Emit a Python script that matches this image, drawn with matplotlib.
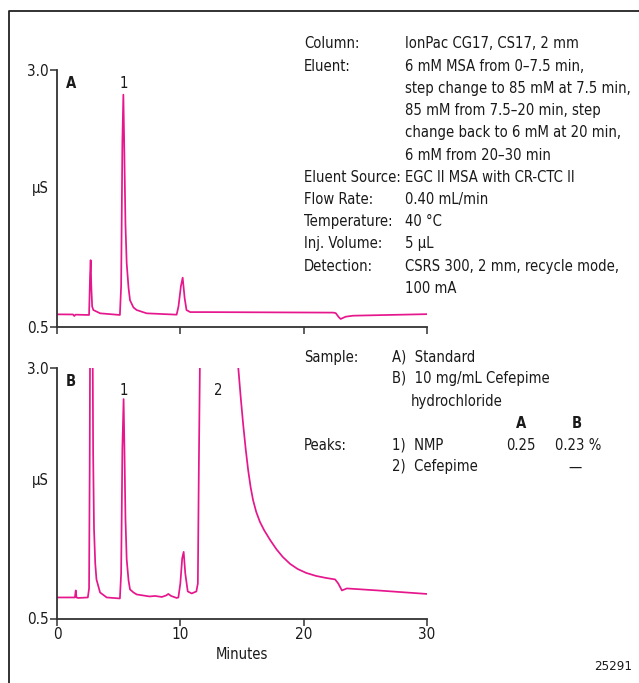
import matplotlib
matplotlib.use("Agg")
import matplotlib.pyplot as plt
from matplotlib.lines import Line2D

# DejaVu Sans Condensed stands in for the narrow Helvetica of the original
plt.rcParams['font.family'] = ['DejaVu Sans']
plt.rcParams['font.stretch'] = 'condensed'

W, H = 639, 683
TRACE = '#e6168c'
AXC = '#333333'
TXT = '#1a1a1a'
FS = 10.6

# chromatogram A (standard), minutes / uS
time_a = [0, 1.3, 1.4, 1.5, 2.6, 2.68, 2.73, 2.78, 2.85, 2.95, 3.5, 5.1, 5.2, 5.3,
          5.38, 5.46, 5.55, 5.65, 5.8, 5.92, 6.2, 6.46, 7.27, 9.7, 9.85, 10.05, 10.19,
          10.35, 10.5, 10.8, 12, 22.4, 22.6, 22.85, 23.0, 23.4, 24, 30]
signal_a = [0.623, 0.622, 0.607, 0.62, 0.617, 1.0, 1.15, 0.9, 0.7, 0.665, 0.633, 0.617, 0.9, 2.3,
            2.76, 2.2, 1.5, 1.12, 0.88, 0.76, 0.69, 0.665, 0.633, 0.62, 0.7, 0.9, 0.98,
            0.78, 0.665, 0.645, 0.645, 0.64, 0.635, 0.595, 0.578, 0.6, 0.61, 0.625]

# chromatogram B (10 mg/mL cefepime hydrochloride)
time_b = [0, 1.45, 1.52, 1.58, 1.7, 2.5, 2.6, 2.65, 2.7, 2.8, 2.88, 2.93, 3.0, 3.1, 3.2,
          3.49, 4.03, 5.1, 5.2, 5.3, 5.4, 5.48, 5.55, 5.65, 5.8, 5.92, 6.2, 6.46, 7.5,
          7.95, 8.5, 8.85, 9.03, 9.25, 9.7, 9.84, 10.0, 10.15, 10.27, 10.4, 10.6, 10.92,
          11.3, 11.42, 11.5, 11.6, 12.0, 13.0, 14.0,
          14.7, 14.9, 15.1, 15.3, 15.5, 15.7, 15.9, 16.15, 16.45, 16.8, 17.3, 17.8, 18.3,
          18.9, 19.5, 20.2, 21.0, 21.8, 22.55, 22.8, 23.1, 23.5, 26, 30]
signal_b = [0.71, 0.71, 0.78, 0.71, 0.705, 0.71, 0.8, 2.0, 4.0, 4.5, 3.5, 2.15, 1.4, 1.05, 0.89,
            0.76, 0.71, 0.70, 0.95, 2.2, 2.69, 2.1, 1.5, 1.09, 0.88, 0.79, 0.76, 0.74, 0.72,
            0.725, 0.715, 0.73, 0.745, 0.725, 0.705, 0.71, 0.85, 1.1, 1.165, 0.95, 0.77, 0.75,
            0.77, 0.85, 2.0, 3.2, 6.0, 8.0, 5.0,
            3.0, 2.70, 2.43, 2.19, 1.98, 1.81, 1.68, 1.565, 1.465, 1.38, 1.28, 1.19, 1.115,
            1.045, 0.995, 0.955, 0.925, 0.905, 0.89, 0.85, 0.78, 0.80, 0.78, 0.745]

x_ticks = [0, 10, 20, 30]
y_ticks = [0.5, 3.0]

conditions = [
    ("Column:", "IonPac CG17, CS17, 2 mm"),
    ("Eluent:", "6 mM MSA from 0\u20137.5 min,"),
    ("", "step change to 85 mM at 7.5 min,"),
    ("", "85 mM from 7.5\u201320 min, step"),
    ("", "change back to 6 mM at 20 min,"),
    ("", "6 mM from 20\u201330 min"),
    ("Eluent Source:", "EGC II MSA with CR-CTC II"),
    ("Flow Rate:", "0.40 mL/min"),
    ("Temperature:", "40 \u00b0C"),
    ("Inj. Volume:", "5 \u00b5L"),
    ("Detection:", "CSRS 300, 2 mm, recycle mode,"),
    ("", "100 mA"),
]


def fx(x):
    return x / W


def fy(y):
    return 1 - y / H


def make_axes(fig, top, bottom):
    ax = fig.add_axes([fx(57), fy(bottom), fx(427) - fx(57), fy(top) - fy(bottom)])
    ax.set_xlim(0, 30)
    ax.set_ylim(0.5, 3.0)
    ax.set_xticks(x_ticks)
    ax.set_yticks(y_ticks)
    ax.set_yticklabels(['0.5', '3.0'])
    for s in ['top', 'right']:
        ax.spines[s].set_visible(False)
    for s in ['left', 'bottom']:
        ax.spines[s].set_color(AXC)
        ax.spines[s].set_linewidth(1.3)
    ax.tick_params(direction='out', length=5, width=1.1, color=AXC, labelcolor=TXT,
                   labelsize=11, pad=1)
    ax.set_facecolor('none')
    return ax


def label(x, y, s, **kw):
    kw.setdefault('va', 'center')
    fig.text(fx(x), fy(y), s, fontsize=FS, color=TXT, **kw)


fig = plt.figure(figsize=(W / 100, H / 100), dpi=100)

ax_a = make_axes(fig, 70, 327)
ax_a.plot(time_a, signal_a, color=TRACE, lw=1.25)
ax_a.set_xticklabels([])
ax_a.text(0.7, 2.87, "A", fontsize=FS, fontweight='bold', va='center', color=TXT)
ax_a.text(5.38, 2.87, "1", fontsize=FS, ha='center', va='center', color=TXT)

ax_b = make_axes(fig, 368, 618.5)
ax_b.plot(time_b, signal_b, color=TRACE, lw=1.25)
ax_b.text(0.7, 2.87, "B", fontsize=FS, fontweight='bold', va='center', color=TXT)
ax_b.text(5.4, 2.78, "1", fontsize=FS, ha='center', va='center', color=TXT)
ax_b.text(13.1, 2.78, "2", fontsize=FS, ha='center', va='center', color=TXT)
ax_b.set_xlabel("Minutes", fontsize=FS, labelpad=4, color=TXT)

label(40, 188, "\u00b5S", ha='center')
label(40, 480, "\u00b5S", ha='center')

# conditions block
for i, (lab, val) in enumerate(conditions):
    y = 44 + i * 22.2
    if lab:
        label(304, y, lab)
    label(405, y, val)

# sample / peaks block
label(304, 357, "Sample:")
label(392, 357, "A)  Standard")
label(392, 379, "B)  10 mg/mL Cefepime")
label(411, 401, "hydrochloride")
label(521, 423, "A", fontweight='bold', ha='center')
label(577, 423, "B", fontweight='bold', ha='center')
label(304, 445, "Peaks:")
label(392, 445, "1)  NMP")
label(521, 445, "0.25", ha='center')
label(555, 445, "0.23 %")
label(392, 467, "2)  Cefepime")
label(575, 467, "\u2014", ha='center')

fig.text(fx(632), fy(667), "25291", fontsize=9.5, ha='right', va='center', color=TXT)

# frame (left and top edges)
fig.add_artist(Line2D([fx(8.5), fx(8.5), 1.0], [0.0, fy(11), fy(11)],
                      color='#222222', lw=1.3, transform=fig.transFigure))

fig.savefig("out.png", dpi=100)
